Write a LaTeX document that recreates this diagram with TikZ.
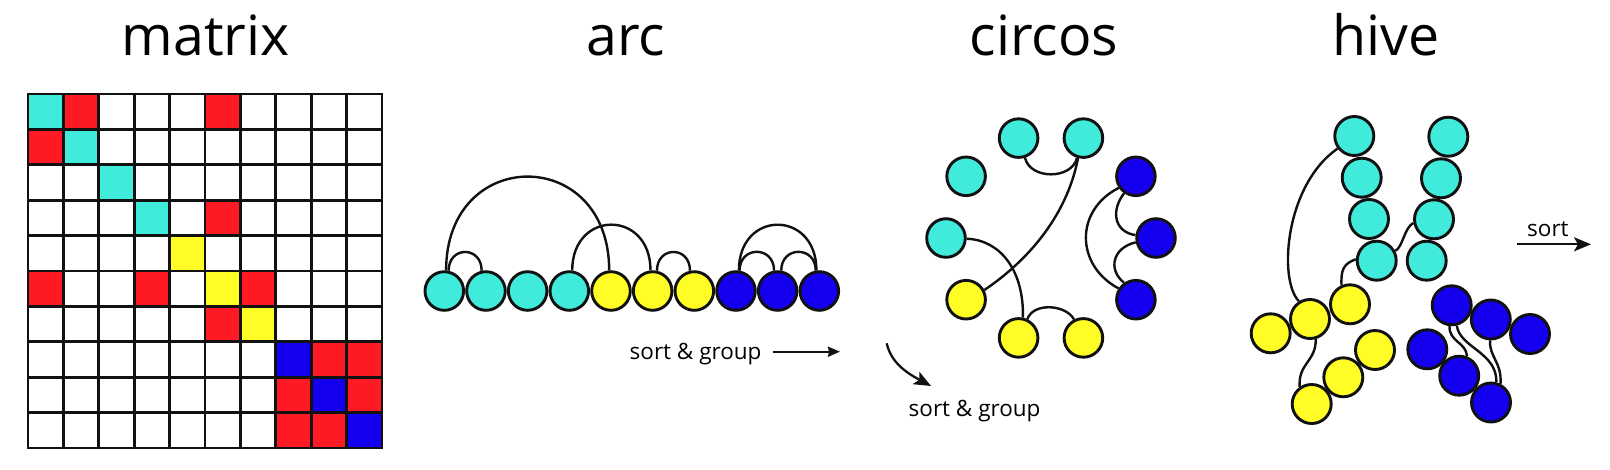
\documentclass[tikz,border=0pt]{standalone}
\usepackage{fontspec}
\setmainfont{Open Sans}
\usetikzlibrary{arrows.meta}
\definecolor{cy}{RGB}{64,235,220}
\definecolor{rd}{RGB}{254,26,36}
\definecolor{yl}{RGB}{255,252,38}
\definecolor{bl}{RGB}{20,0,238}
\definecolor{ink}{RGB}{17,17,17}
\begin{document}
\begin{tikzpicture}[x=1pt,y=-1pt,
  nd/.style={circle,draw=ink,line width=2.9pt,minimum size=38.6pt,inner sep=0pt},
  hn/.style={nd,minimum size=39pt},
  ed/.style={draw=ink,line width=2.4pt},
  gl/.style={draw=ink,line width=2.9pt,line cap=rect},
  title/.style={font=\fontsize{55.5}{60}\selectfont,anchor=base,inner sep=0pt},
  small/.style={font=\fontsize{22.5}{24}\selectfont,inner sep=0pt},
  arr/.style={draw=ink,line width=2.3pt,-{Stealth[length=12pt,width=10pt,inset=1pt]}},
  bigarr/.style={draw=ink,line width=2.3pt,-{Stealth[length=17pt,width=14pt,inset=4pt]}}]
\useasboundingbox[fill=white] (0,0) rectangle (1610,469);

% titles
\node[title] (tm) at (205.8,55) {matrix};
\node[title] (ta) at (626,55) {arc};
\node[title] (tc) at (1044,55) {circos};
\node[title] (th) at (1386,55) {hive};

% matrix
\foreach \r/\c/\col in {0/0/cy,0/1/rd,0/5/rd,1/0/rd,1/1/cy,2/2/cy,3/3/cy,3/5/rd,4/4/yl,
  5/0/rd,5/3/rd,5/5/yl,5/6/rd,6/5/rd,6/6/yl,7/7/bl,7/8/rd,7/9/rd,8/7/rd,8/8/bl,8/9/rd,
  9/7/rd,9/8/rd,9/9/bl}
  \fill[\col] ({28+35.4*\c},{94+35.4*\r}) rectangle +(35.4,35.4);
\foreach \i in {0,...,10} {
  \draw[gl] ({28+35.4*\i},94) -- ({28+35.4*\i},448);
  \draw[gl] (28,{94+35.4*\i}) -- (382,{94+35.4*\i});
}

% arc diagram
\foreach \i/\col in {0/cy,1/cy,2/cy,3/cy,4/yl,5/yl,6/yl,7/bl,8/bl,9/bl}
  \node[nd,fill=\col] (a\i) at ({444.3+41.67*\i},291) {};
\draw[ed] (a0.85) .. controls +(0,-125) and +(0,-125) .. (a4.95);
\draw[ed] (a0.78) .. controls +(0,-25) and +(0,-25) .. (a1.102);
\draw[ed] (a3.82) .. controls +(0,-61) and +(0,-61) .. (a5.96);
\draw[ed] (a5.78) .. controls +(0,-25) and +(0,-25) .. (a6.102);
\draw[ed] (a7.82) .. controls +(0,-61) and +(0,-61) .. (a9.98);
\draw[ed] (a7.80) .. controls +(0,-25) and +(0,-25) .. (a8.100);
\draw[ed] (a8.80) .. controls +(0,-25) and +(0,-25) .. (a9.100);
\node[small,anchor=base west] (sg1) at (629.5,359.3) {sort \& group};
\coordinate (ar1s) at (772.7,351.7);
\coordinate (ar1e) at (840,351.7);
\draw[arr] (ar1s) -- (ar1e);

% circos
\node[nd,fill=cy] (cD) at (946,238) {};
\node[nd,fill=cy] (cA) at (966.1,176.3) {};
\node[nd,fill=cy] (cB) at (1018.6,138.1) {};
\node[nd,fill=cy] (cC) at (1083.4,138.1) {};
\node[nd,fill=bl] (cH) at (1135.9,176.3) {};
\node[nd,fill=bl] (cI) at (1156,238) {};
\node[nd,fill=bl] (cJ) at (1135.9,299.7) {};
\node[nd,fill=yl] (cG) at (1083.4,337.9) {};
\node[nd,fill=yl] (cF) at (1018.6,337.9) {};
\node[nd,fill=yl] (cE) at (966.1,299.7) {};
\draw[ed] (cB.-72) .. controls +(5,22) and +(-5,22) .. (cC.-108);
\draw[ed] (cC.-105) .. controls (1066,220) and (1023,264) .. (cE.28);
\draw[ed] (cD.-2) .. controls (1000,240) and (1024,270) .. (cF.78);
\draw[ed] (cF.65) .. controls +(6,-17) and +(-8,-15) .. (cG.117);
\draw[ed] (cH.214) .. controls (1075,210) and (1075,265) .. (cJ.147);
\draw[ed] (cH.-125) .. controls (1110,212) and (1115,232) .. (cI.172);
\draw[ed] (cI.-168) .. controls (1112,248) and (1108,270) .. (cJ.125);
\coordinate (ar2s) at (886.7,343.3);
\coordinate (ar2e) at (931,386);
\draw[bigarr] (ar2s) .. controls (891,362) and (905,372) .. (ar2e);
\node[small,anchor=base west] (sg2) at (908.5,416.7) {sort \& group};

% hive
\node[hn,fill=cy] (L1) at (1354.3,136) {};
\node[hn,fill=cy] (L2) at (1361.7,177.7) {};
\node[hn,fill=cy] (L3) at (1369,219) {};
\node[hn,fill=cy] (L4) at (1376.7,260.7) {};
\node[hn,fill=cy] (R1) at (1448.3,136.7) {};
\node[hn,fill=cy] (R2) at (1441,178.3) {};
\node[hn,fill=cy] (R3) at (1434,219.3) {};
\node[hn,fill=cy] (R4) at (1426.7,260.7) {};
\node[hn,fill=yl] (Y3) at (1270.7,333.3) {};
\node[hn,fill=yl] (Y1) at (1350,304.3) {};
\node[hn,fill=yl] (Y2) at (1310,319) {};
\node[hn,fill=yl] (Y4) at (1375,350) {};
\node[hn,fill=yl] (Y6) at (1311.7,404) {};
\node[hn,fill=yl] (Y5) at (1343.3,377.3) {};
\node[hn,fill=bl] (B1) at (1451.7,305.3) {};
\node[hn,fill=bl] (B3) at (1530,334) {};
\node[hn,fill=bl] (B2) at (1490.8,319.5) {};
\node[hn,fill=bl] (B4) at (1427.3,349.3) {};
\node[hn,fill=bl] (B5) at (1459.2,375.7) {};
\node[hn,fill=bl] (B6) at (1491,402.5) {};
\draw[ed] (L1.217) .. controls (1285,185) and (1278,280) .. (Y2.122);
\draw[ed] (L4.176) .. controls (1343,264) and (1341,270) .. (Y1.114);
\draw[ed] (R3.190) .. controls (1404,228) and (1403,247) .. (L4.28);
\draw[ed] (Y2.-74) .. controls (1316,362) and (1298,363) .. (Y6.125);
\draw[ed] (B1.-96) .. controls (1449,342) and (1466,342) .. (B5.68);
\draw[ed] (B1.-76) .. controls (1460,348) and (1497,352) .. (B6.75);
\draw[ed] (B2.-92) .. controls (1489,357) and (1502,362) .. (B6.63);
\node[small,anchor=base west] (st) at (1527,236) {sort};
\coordinate (ar3s) at (1517.3,244.3);
\coordinate (ar3e) at (1591,244.3);
\draw[bigarr] (ar3s) -- (ar3e);
\end{tikzpicture}
\end{document}
